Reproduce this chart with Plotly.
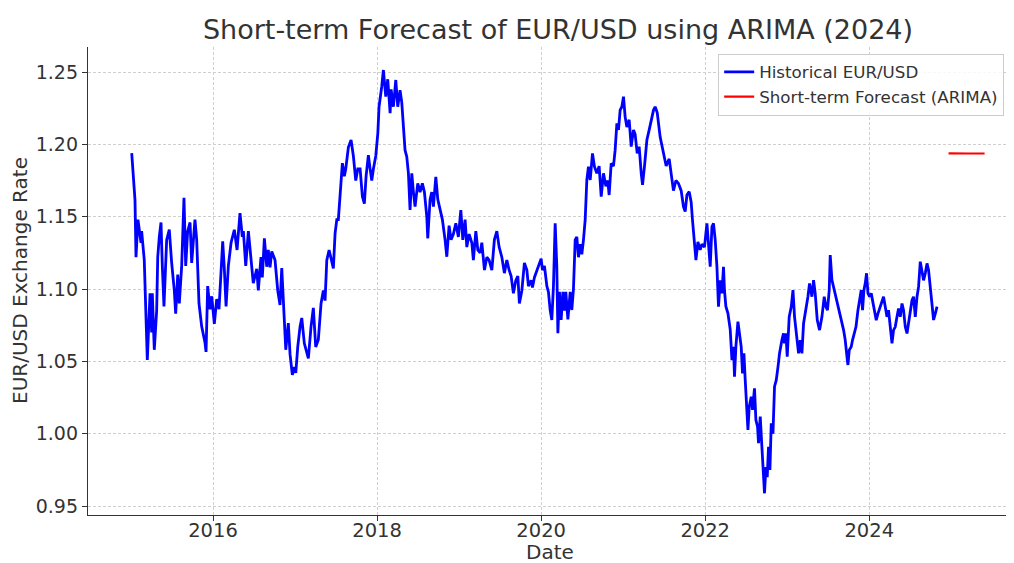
import plotly.graph_objects as go

# Historical EUR/USD (decimal year, rate)
hist_years = [
    2015.009, 2015.024, 2015.049, 2015.061, 2015.085, 2015.122, 2015.130, 2015.162, 2015.179, 2015.199,
    2015.232, 2015.252, 2015.260, 2015.284, 2015.313, 2015.326, 2015.345, 2015.366, 2015.382, 2015.402,
    2015.435, 2015.467, 2015.496, 2015.528, 2015.545, 2015.570, 2015.589, 2015.618, 2015.646, 2015.667,
    2015.691, 2015.720, 2015.740, 2015.780, 2015.801, 2015.813, 2015.829, 2015.862, 2015.902, 2015.915,
    2015.935, 2015.963, 2015.984, 2016.016, 2016.045, 2016.073, 2016.106, 2016.118, 2016.138, 2016.159,
    2016.187, 2016.220, 2016.260, 2016.293, 2016.329, 2016.357, 2016.370, 2016.399, 2016.431, 2016.472,
    2016.491, 2016.533, 2016.552, 2016.585, 2016.601, 2016.626, 2016.655, 2016.674, 2016.695, 2016.716,
    2016.756, 2016.789, 2016.817, 2016.838, 2016.862, 2016.887, 2016.918, 2016.939, 2016.967, 2016.991,
    2017.009, 2017.033, 2017.061, 2017.082, 2017.113, 2017.143, 2017.162, 2017.195, 2017.223, 2017.252,
    2017.284, 2017.317, 2017.345, 2017.366, 2017.387, 2017.415, 2017.439, 2017.467, 2017.488, 2017.509,
    2017.528, 2017.549, 2017.577, 2017.601, 2017.618, 2017.650, 2017.683, 2017.711, 2017.740, 2017.765,
    2017.793, 2017.821, 2017.845, 2017.866, 2017.894, 2017.915, 2017.935, 2017.955, 2017.984, 2018.009,
    2018.024, 2018.057, 2018.077, 2018.106, 2018.130, 2018.159, 2018.171, 2018.199, 2018.228, 2018.252,
    2018.280, 2018.301, 2018.321, 2018.341, 2018.362, 2018.382, 2018.402, 2018.423, 2018.443, 2018.463,
    2018.496, 2018.524, 2018.552, 2018.577, 2018.606, 2018.618, 2018.646, 2018.667, 2018.687, 2018.716,
    2018.740, 2018.768, 2018.796, 2018.829, 2018.850, 2018.878, 2018.902, 2018.930, 2018.960, 2018.991,
    2019.021, 2019.045, 2019.073, 2019.094, 2019.122, 2019.155, 2019.174, 2019.204, 2019.228, 2019.256,
    2019.277, 2019.309, 2019.338, 2019.366, 2019.399, 2019.430, 2019.460, 2019.488, 2019.521, 2019.552,
    2019.582, 2019.610, 2019.634, 2019.662, 2019.691, 2019.716, 2019.735, 2019.765, 2019.796, 2019.826,
    2019.845, 2019.878, 2019.894, 2019.918, 2019.948, 2019.976, 2020.000, 2020.016, 2020.040, 2020.070,
    2020.089, 2020.110, 2020.130, 2020.150, 2020.171, 2020.191, 2020.204, 2020.223, 2020.244, 2020.265,
    2020.284, 2020.301, 2020.326, 2020.354, 2020.374, 2020.394, 2020.415, 2020.435, 2020.455, 2020.476,
    2020.496, 2020.516, 2020.537, 2020.557, 2020.577, 2020.598, 2020.626, 2020.650, 2020.679, 2020.707,
    2020.732, 2020.760, 2020.789, 2020.813, 2020.829, 2020.854, 2020.882, 2020.902, 2020.923, 2020.943,
    2020.963, 2020.984, 2021.004, 2021.024, 2021.045, 2021.073, 2021.098, 2021.126, 2021.146, 2021.171,
    2021.195, 2021.220, 2021.236, 2021.260, 2021.289, 2021.317, 2021.341, 2021.370, 2021.390, 2021.415,
    2021.451, 2021.488, 2021.524, 2021.561, 2021.594, 2021.613, 2021.643, 2021.674, 2021.707, 2021.735,
    2021.756, 2021.777, 2021.805, 2021.829, 2021.845, 2021.870, 2021.887, 2021.911, 2021.939, 2021.960,
    2021.991, 2022.021, 2022.040, 2022.061, 2022.082, 2022.101, 2022.122, 2022.143, 2022.162, 2022.183,
    2022.204, 2022.223, 2022.235, 2022.252, 2022.277, 2022.305, 2022.326, 2022.345, 2022.357, 2022.374,
    2022.399, 2022.418, 2022.439, 2022.455, 2022.472, 2022.488, 2022.509, 2022.521, 2022.537, 2022.561,
    2022.577, 2022.601, 2022.618, 2022.638, 2022.650, 2022.671, 2022.691, 2022.711, 2022.723, 2022.740,
    2022.756, 2022.772, 2022.789, 2022.805, 2022.826, 2022.845, 2022.866, 2022.887, 2022.906, 2022.935,
    2022.955, 2022.967, 2022.984, 2023.000, 2023.024, 2023.049, 2023.070, 2023.089, 2023.110, 2023.138,
    2023.159, 2023.179, 2023.199, 2023.228, 2023.252, 2023.272, 2023.301, 2023.321, 2023.341, 2023.366,
    2023.394, 2023.423, 2023.451, 2023.472, 2023.491, 2023.512, 2023.524, 2023.545, 2023.565, 2023.585,
    2023.613, 2023.634, 2023.659, 2023.687, 2023.707, 2023.728, 2023.740, 2023.756, 2023.780, 2023.796,
    2023.821, 2023.838, 2023.862, 2023.882, 2023.902, 2023.918, 2023.935, 2023.951, 2023.967, 2023.984,
    2024.004, 2024.024, 2024.045, 2024.065, 2024.085, 2024.106, 2024.134, 2024.155, 2024.174, 2024.195,
    2024.216, 2024.235, 2024.256, 2024.277, 2024.296, 2024.317, 2024.338, 2024.357, 2024.378, 2024.399,
    2024.418, 2024.439, 2024.460, 2024.479, 2024.500, 2024.521, 2024.540, 2024.561, 2024.582, 2024.601,
    2024.622, 2024.643, 2024.662, 2024.683, 2024.704, 2024.723, 2024.744, 2024.765, 2024.784, 2024.805,
    2024.826,
]
hist_rates = [
    1.194, 1.180, 1.1615, 1.122, 1.148, 1.132, 1.140, 1.120, 1.083, 1.051,
    1.097, 1.070, 1.097, 1.058, 1.085, 1.122, 1.136, 1.146, 1.116, 1.088,
    1.134, 1.141, 1.118, 1.099, 1.083, 1.110, 1.090, 1.116, 1.163, 1.116,
    1.140, 1.146, 1.118, 1.148, 1.134, 1.106, 1.090, 1.074, 1.063, 1.0565,
    1.102, 1.086, 1.095, 1.076, 1.093, 1.086, 1.122, 1.133, 1.114, 1.088,
    1.116, 1.132, 1.141, 1.127, 1.1525, 1.136, 1.140, 1.116, 1.140, 1.114,
    1.104, 1.114, 1.099, 1.122, 1.108, 1.135, 1.1154, 1.127, 1.115, 1.126,
    1.120, 1.099, 1.089, 1.1145, 1.083, 1.058, 1.0765, 1.055, 1.0406, 1.046,
    1.042, 1.060, 1.074, 1.080, 1.0625, 1.055, 1.052, 1.074, 1.087, 1.060,
    1.065, 1.090, 1.099, 1.092, 1.120, 1.127, 1.122, 1.1143, 1.1385, 1.148,
    1.148, 1.168, 1.187, 1.178, 1.183, 1.198, 1.203, 1.192, 1.175, 1.183,
    1.183, 1.164, 1.159, 1.178, 1.1926, 1.183, 1.175, 1.183, 1.192, 1.2076,
    1.226, 1.240, 1.2514, 1.233, 1.245, 1.2215, 1.238, 1.226, 1.2445, 1.226,
    1.2375, 1.229, 1.212, 1.196, 1.1915, 1.180, 1.1546, 1.180, 1.167, 1.157,
    1.173, 1.167, 1.173, 1.167, 1.150, 1.135, 1.162, 1.167, 1.157, 1.1776,
    1.162, 1.1546, 1.148, 1.134, 1.1223, 1.1438, 1.134, 1.138, 1.1454, 1.136,
    1.1546, 1.134, 1.148, 1.129, 1.138, 1.132, 1.120, 1.140, 1.127, 1.125,
    1.132, 1.1131, 1.122, 1.120, 1.113, 1.134, 1.140, 1.129, 1.122, 1.111,
    1.120, 1.113, 1.109, 1.097, 1.106, 1.109, 1.090, 1.099, 1.118, 1.1131,
    1.102, 1.106, 1.101, 1.108, 1.113, 1.118, 1.121, 1.1131, 1.116, 1.102,
    1.098, 1.0855, 1.0786, 1.102, 1.1454, 1.1155, 1.0694, 1.098, 1.0786, 1.098,
    1.085, 1.098, 1.079, 1.098, 1.0855, 1.100, 1.134, 1.136, 1.122, 1.131,
    1.124, 1.134, 1.148, 1.1754, 1.1846, 1.1754, 1.1938, 1.1846, 1.180, 1.185,
    1.1638, 1.180, 1.171, 1.175, 1.165, 1.1869, 1.185, 1.196, 1.2145, 1.210,
    1.2237, 1.226, 1.233, 1.219, 1.212, 1.217, 1.1984, 1.210, 1.207, 1.1938,
    1.1984, 1.180, 1.172, 1.185, 1.203, 1.210, 1.217, 1.2237, 1.226, 1.222,
    1.205, 1.195, 1.185, 1.190, 1.1754, 1.168, 1.175, 1.173, 1.168, 1.157,
    1.1535, 1.165, 1.1673, 1.160, 1.1477, 1.134, 1.120, 1.1326, 1.127, 1.131,
    1.129, 1.1454, 1.129, 1.1154, 1.143, 1.1454, 1.134, 1.1154, 1.0878, 1.106,
    1.097, 1.1154, 1.099, 1.088, 1.0832, 1.072, 1.0509, 1.060, 1.0394, 1.060,
    1.0774, 1.0693, 1.060, 1.0417, 1.0555, 1.037, 1.0141, 1.0026, 1.0187, 1.0256,
    1.0164, 1.0313, 1.0095, 1.0049, 0.9934, 1.0118, 0.991, 0.9657, 0.9588, 0.977,
    0.970, 0.991, 0.975, 1.0072, 1.000, 1.0325, 1.037, 1.046, 1.0555, 1.0647,
    1.0693, 1.0624, 1.0693, 1.0532, 1.0808, 1.0877, 1.0993, 1.0808, 1.0716, 1.0555,
    1.0647, 1.0555, 1.0762, 1.0854, 1.0947, 1.1039, 1.0947, 1.1062, 1.097, 1.0785,
    1.0716, 1.0808, 1.0947, 1.0877, 1.0854, 1.0993, 1.1235, 1.1062, 1.1016, 1.097,
    1.0912, 1.0854, 1.0785, 1.0716, 1.0647, 1.0532, 1.0475, 1.0578, 1.0601, 1.0647,
    1.0716, 1.0739, 1.0854, 1.0935, 1.0993, 1.0854, 1.0993, 1.1039, 1.1109, 1.097,
    1.0947, 1.097, 1.090, 1.0854, 1.0785, 1.083, 1.0877, 1.0923, 1.0947, 1.0877,
    1.0808, 1.0854, 1.0716, 1.0625, 1.0716, 1.0739, 1.0808, 1.0866, 1.0808, 1.090,
    1.0854, 1.0739, 1.0693, 1.0762, 1.0854, 1.0923, 1.0947, 1.0808, 1.0947, 1.1016,
    1.1189, 1.113, 1.106, 1.111, 1.1177, 1.113, 1.0993, 1.090, 1.0786, 1.083,
    1.0878,
]

# Short-term ARIMA forecast
fc_years = [2024.967, 2025.05, 2025.13, 2025.21, 2025.29, 2025.37, 2025.406]
fc_rates = [1.1938, 1.1936, 1.1937, 1.1937, 1.1937, 1.1937, 1.1937]

# Axis ticks
x_ticks = [2016, 2018, 2020, 2022, 2024]
y_ticks = [0.95, 1.00, 1.05, 1.10, 1.15, 1.20, 1.25]

FONT = "DejaVu Sans"
TXT = "#333333"

# The page body adds an 8px offset, so the figure is sized to the visible area
W, H = 1006, 555
ML, MR, MT, MB = 80, 2, 39, 48
PW, PH = W - ML - MR, H - MT - MB

fig = go.Figure()
fig.add_trace(go.Scatter(
    x=hist_years, y=hist_rates, mode="lines", name="Historical EUR/USD",
    line=dict(color="#0000ff", width=2.8),
))
fig.add_trace(go.Scatter(
    x=fc_years, y=fc_rates, mode="lines", name="Short-term Forecast (ARIMA)",
    line=dict(color="#ff0000", width=2.2),
))

fig.update_layout(
    width=W, height=H,
    paper_bgcolor="white", plot_bgcolor="white",
    margin=dict(l=ML, r=MR, t=MT, b=MB, autoexpand=False),
    font=dict(family=FONT, color=TXT, size=19),
    title=dict(text="Short-term Forecast of EUR/USD using ARIMA (2024)",
               x=550 / W, xanchor="center", y=1 - 22 / H, yanchor="middle",
               font=dict(size=27, color=TXT, family=FONT)),
    showlegend=True,
    legend=dict(x=0.682, y=0.986, xanchor="left", yanchor="top",
                bgcolor="rgba(255,255,255,0.85)", bordercolor="#cccccc", borderwidth=1,
                font=dict(size=16.7, color=TXT, family=FONT)),
    annotations=[
        dict(text="Date", xref="paper", yref="paper", x=0.5, y=-37 / PH,
             xanchor="center", yanchor="middle", showarrow=False,
             font=dict(size=20, color=TXT, family=FONT)),
        dict(text="EUR/USD Exchange Rate", xref="paper", yref="paper",
             x=-68 / PW, y=0.5, xanchor="center", yanchor="middle",
             textangle=-90, showarrow=False,
             font=dict(size=20, color=TXT, family=FONT)),
    ],
)
fig.update_xaxes(
    range=[2014.476, 2025.74], tickmode="array", tickvals=x_ticks,
    ticktext=[str(t) for t in x_ticks], automargin=False,
    showgrid=True, gridcolor="#cfcfcf", griddash="3px,2px", gridwidth=1,
    showline=True, linecolor="#333333", linewidth=1.3, mirror=False,
    ticks="outside", ticklen=5, tickcolor="#333333", zeroline=False,
    tickfont=dict(size=19.5, color=TXT), ticklabelstandoff=-8,
)
fig.update_yaxes(
    range=[0.9438, 1.2673], tickmode="array", tickvals=y_ticks,
    ticktext=[f"{t:.2f}" for t in y_ticks], automargin=False,
    showgrid=True, gridcolor="#cfcfcf", griddash="3px,2px", gridwidth=1,
    showline=True, linecolor="#333333", linewidth=1.3, mirror=False,
    ticks="outside", ticklen=5, tickcolor="#333333", zeroline=False,
    tickfont=dict(size=19, color=TXT),
)

fig.write_html("out.html")
